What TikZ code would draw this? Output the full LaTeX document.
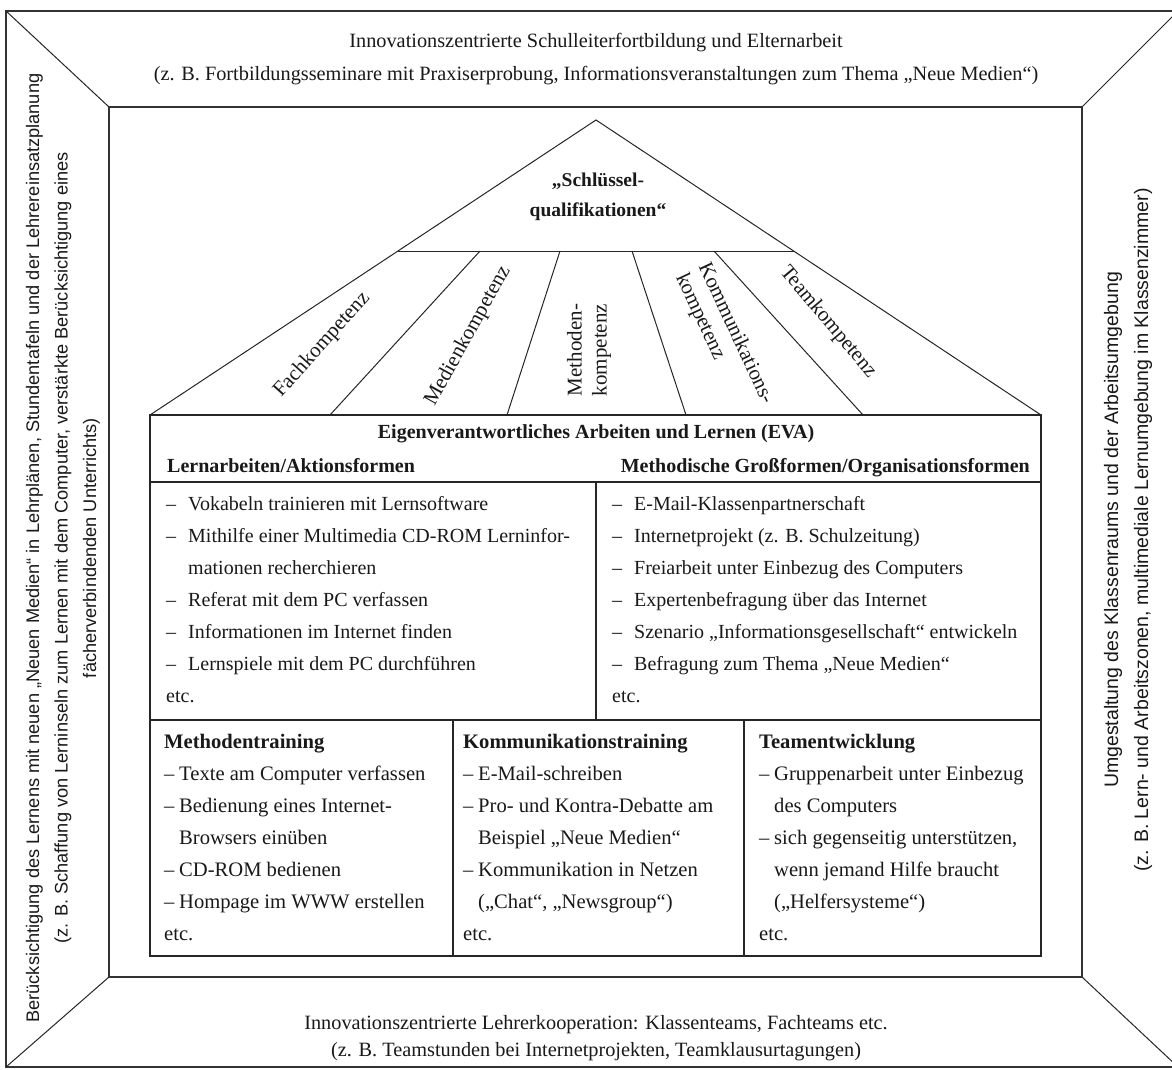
\documentclass[tikz,border=0pt]{standalone}
\usepackage{fontspec}
\setmainfont{Liberation Serif}
\newfontfamily\sidefont{Liberation Sans}
\begin{document}
\begin{tikzpicture}[x=1pt,y=-1pt,line join=miter,
  frame/.style={draw=black!80,line width=1.6pt},
  boxline/.style={draw=black!85,line width=1.2pt},
  thinline/.style={draw=black!85,line width=1pt},
  striptext/.style={font=\fontsize{20.3}{33}\selectfont,inner sep=0pt,anchor=base,text=black!90},
  sidetext/.style={font=\sidefont\fontsize{18.2}{28.5}\selectfont,inner sep=0pt,align=center,rotate=90,text=black!90},
  head/.style={font=\bfseries\fontsize{20}{32}\selectfont,inner sep=0pt,text=black!90},
  body/.style={font=\fontsize{20}{32}\selectfont,inner sep=0pt,align=left,anchor=north west,text=black!90},
  bodyb/.style={body,font=\fontsize{20.6}{32}\selectfont},
  komp/.style={font=\fontsize{21}{25}\selectfont,inner sep=0pt,align=left,text=black!90}]
\useasboundingbox (0,0) rectangle (1172,1070);
\fill[white] (0,0) rectangle (1172,1070);
\begin{scope}
\clip (0,0) rectangle (1172,1070);
% frame
\coordinate (o1) at (6,11);
\coordinate (o2) at (1178,11);
\coordinate (o3) at (1178,1067);
\coordinate (o4) at (6,1067);
\coordinate (i1) at (109,107);
\coordinate (i2) at (1082,107);
\coordinate (i3) at (1082,977);
\coordinate (i4) at (109,977);
\draw[frame] (o1) rectangle (o3);
\draw[frame] (i1) rectangle (i3);
\draw[thinline] (o1) -- (i1);
\draw[thinline] (o2) -- (i2);
\draw[thinline] (o3) -- (i3);
\draw[thinline] (o4) -- (i4);
\end{scope}

% strips
\node[striptext] (t1) at (596,48) {Innovationszentrierte Schulleiterfortbildung und Elternarbeit};
\node[striptext] (t2) at (596,81) {(z. B. Fortbildungsseminare mit Praxiserprobung, Informationsveranstaltungen zum Thema „Neue Medien“)};
\node[striptext] (b1) at (596,1029) {Innovationszentrierte Lehrerkooperation: Klassenteams, Fachteams etc.};
\node[striptext] (b2) at (596,1056) {(z. B. Teamstunden bei Internetprojekten, Teamklausurtagungen)};
\node[sidetext] (left) at (63,548) {Berücksichtigung des Lernens mit neuen „Neuen Medien“ in Lehrplänen, Stundentafeln und der Lehrereinsatzplanung\\(z. B. Schaffung von Lerninseln zum Lernen mit dem Computer, verstärkte Berücksichtigung eines\\fächerverbindenden Unterrichts)};
\node[sidetext,font=\sidefont\fontsize{19.5}{30}\selectfont] (right) at (1128,530) {Umgestaltung des Klassenraums und der Arbeitsumgebung\\(z. B. Lern- und Arbeitszonen, multimediale Lernumgebung im Klassenzimmer)};

% pyramid
\coordinate (apex) at (596,120);
\coordinate (bl) at (150,415);
\coordinate (br) at (1041,415);
\coordinate (ql) at (398,251);
\coordinate (qr) at (794,251);
\draw[thinline] (bl) -- (apex) -- (br);
\draw[thinline] (ql) -- (qr);
\coordinate (s1t) at (480,251); \coordinate (s1b) at (330,415);
\coordinate (s2t) at (560,251); \coordinate (s2b) at (507,415);
\coordinate (s3t) at (632,251); \coordinate (s3b) at (686,415);
\coordinate (s4t) at (714,251); \coordinate (s4b) at (863,415);
\draw[thinline] (s1t) -- (s1b);
\draw[thinline] (s2t) -- (s2b);
\draw[thinline] (s3t) -- (s3b);
\draw[thinline] (s4t) -- (s4b);
\node[head,align=center,font=\bfseries\fontsize{19.5}{30}\selectfont] (schl) at (598,197) {„Schlüssel-\\qualifikationen“};
\node[komp,rotate=48] (fach) at (322,345) {Fachkompetenz};
\node[komp,rotate=61] (medien) at (468,336) {Medienkompetenz};
\node[komp,rotate=90] (meth) at (589,350) {Methoden-\\kompetenz};
\node[komp,rotate=-65] (komm) at (724,339) {Kommunikations-\\kompetenz};
\node[komp,rotate=-50] (team) at (828,322) {Teamkompetenz};

% EVA box
\coordinate (e1) at (150,415);
\coordinate (e3) at (1041,956);
\draw[boxline] (e1) rectangle (e3);
\coordinate (h1l) at (150,482); \coordinate (h1r) at (1041,482);
\coordinate (h2l) at (150,720); \coordinate (h2r) at (1041,720);
\coordinate (v1t) at (596,482); \coordinate (v1b) at (596,720);
\coordinate (v2t) at (453,720); \coordinate (v2b) at (453,956);
\coordinate (v3t) at (744,720); \coordinate (v3b) at (744,956);
\draw[boxline] (h1l) -- (h1r);
\draw[boxline] (h2l) -- (h2r);
\draw[boxline] (v1t) -- (v1b);
\draw[boxline] (v2t) -- (v2b);
\draw[boxline] (v3t) -- (v3b);

\node[head,anchor=base] (eva) at (596,438) {Eigenverantwortliches Arbeiten und Lernen (EVA)};
\node[head,anchor=base west] (lern) at (167,472) {Lernarbeiten/Aktionsformen};
\node[head,anchor=base east] (meth2) at (1030,472) {Methodische Großformen/Organisationsformen};

\node[body] (listL) at (166,487.6) {\strut\makebox[22pt][l]{–}Vokabeln trainieren mit Lernsoftware\\
\makebox[22pt][l]{–}Mithilfe einer Multimedia CD-ROM Lerninfor-\\
\hspace*{22pt}mationen recherchieren\\
\makebox[22pt][l]{–}Referat mit dem PC verfassen\\
\makebox[22pt][l]{–}Informationen im Internet finden\\
\makebox[22pt][l]{–}Lernspiele mit dem PC durchführen\\
etc.};
\node[body] (listR) at (612,487.6) {\strut\makebox[22pt][l]{–}E-Mail-Klassenpartnerschaft\\
\makebox[22pt][l]{–}Internetprojekt (z. B. Schulzeitung)\\
\makebox[22pt][l]{–}Freiarbeit unter Einbezug des Computers\\
\makebox[22pt][l]{–}Expertenbefragung über das Internet\\
\makebox[22pt][l]{–}Szenario „Informationsgesellschaft“ entwickeln\\
\makebox[22pt][l]{–}Befragung zum Thema „Neue Medien“\\
etc.};

\node[bodyb] (cell1) at (164,725.6) {\strut\textbf{Methodentraining}\\
\makebox[15pt][l]{–}Texte am Computer verfassen\\
\makebox[15pt][l]{–}Bedienung eines Internet-\\
\hspace*{15pt}Browsers einüben\\
\makebox[15pt][l]{–}CD-ROM bedienen\\
\makebox[15pt][l]{–}Hompage im WWW erstellen\\
etc.};
\node[bodyb] (cell2) at (463,725.6) {\strut\textbf{Kommunikationstraining}\\
\makebox[15pt][l]{–}E-Mail-schreiben\\
\makebox[15pt][l]{–}Pro- und Kontra-Debatte am\\
\hspace*{15pt}Beispiel „Neue Medien“\\
\makebox[15pt][l]{–}Kommunikation in Netzen\\
\hspace*{15pt}(„Chat“, „Newsgroup“)\\
etc.};
\node[bodyb] (cell3) at (759,725.6) {\strut\textbf{Teamentwicklung}\\
\makebox[15pt][l]{–}Gruppenarbeit unter Einbezug\\
\hspace*{15pt}des Computers\\
\makebox[15pt][l]{–}sich gegenseitig unterstützen,\\
\hspace*{15pt}wenn jemand Hilfe braucht\\
\hspace*{15pt}(„Helfersysteme“)\\
etc.};
\end{tikzpicture}
\end{document}
